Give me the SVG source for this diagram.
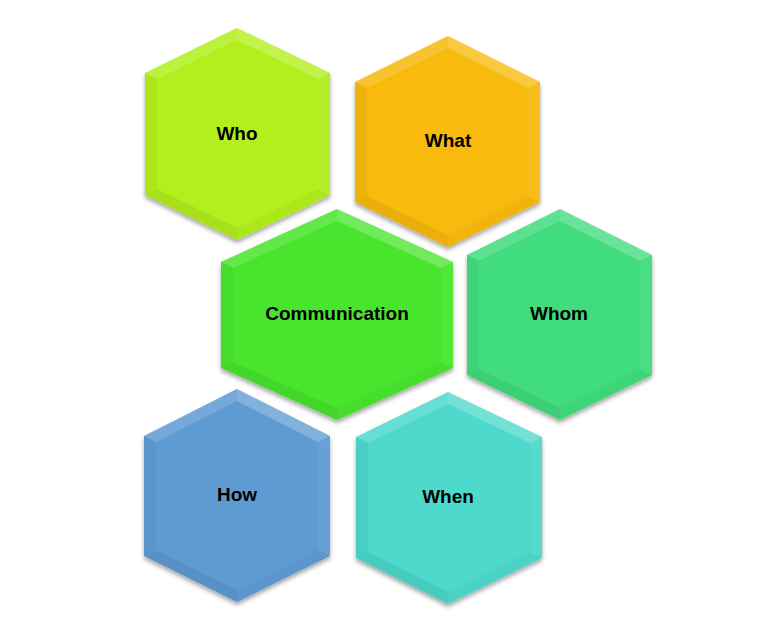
<svg xmlns="http://www.w3.org/2000/svg" width="780" height="630" viewBox="0 0 780 630">
<defs>
<filter id="sh" x="-10%" y="-10%" width="120%" height="125%">
<feDropShadow dx="0" dy="3" stdDeviation="2" flood-color="#000" flood-opacity="0.35"/>
</filter>
</defs>
<style>
.hex{filter:url(#sh)}
.tl{fill:#fff;opacity:.14}
.tr{fill:#fff;opacity:.22}
.lf{fill:#000;opacity:.04}
.rt{fill:#fff;opacity:.05}
.bl{fill:#000;opacity:.06}
.br{fill:#000;opacity:.03}
.lbl{font-family:"Liberation Sans",Arial,sans-serif;font-weight:bold;font-size:19px;fill:#000;text-anchor:middle}
</style>
<rect width="780" height="630" fill="#fff"/>
<g id="connectors"></g>
<g id="who">
<polygon class="hex" fill="#B2EF1E" points="237,28 330,73 330,195 237,240 145,195 145,73"/>
<polygon class="tl" points="237,28 145,73 157,79 237,40"/>
<polygon class="tr" points="237,28 330,73 318,79 237,40"/>
<polygon class="lf" points="145,73 145,195 157,189 157,79"/>
<polygon class="rt" points="330,73 330,195 318,189 318,79"/>
<polygon class="bl" points="145,195 237,240 237,228 157,189"/>
<polygon class="br" points="237,240 330,195 318,189 237,228"/>
<text class="lbl" x="237" y="140">Who</text>
</g>
<g id="what">
<polygon class="hex" fill="#F8BA0B" points="448,36 540,82 540,202 448,247 355,202 355,82"/>
<polygon class="tl" points="448,36 355,82 367,88 448,48"/>
<polygon class="tr" points="448,36 540,82 528,88 448,48"/>
<polygon class="lf" points="355,82 355,202 367,196 367,88"/>
<polygon class="rt" points="540,82 540,202 528,196 528,88"/>
<polygon class="bl" points="355,202 448,247 448,235 367,196"/>
<polygon class="br" points="448,247 540,202 528,196 448,235"/>
<text class="lbl" x="448" y="147">What</text>
</g>
<g id="communication">
<polygon class="hex" fill="#48E52E" points="337,209 453,262 453,368 337,420 221,368 221,262"/>
<polygon class="tl" points="337,209 221,262 233,268 337,221"/>
<polygon class="tr" points="337,209 453,262 441,268 337,221"/>
<polygon class="lf" points="221,262 221,368 233,362 233,268"/>
<polygon class="rt" points="453,262 453,368 441,362 441,268"/>
<polygon class="bl" points="221,368 337,420 337,408 233,362"/>
<polygon class="br" points="337,420 453,368 441,362 337,408"/>
<text class="lbl" x="337" y="320">Communication</text>
</g>
<g id="whom">
<polygon class="hex" fill="#40DC7E" points="560,209 652,255 652,375 560,420 467,375 467,255"/>
<polygon class="tl" points="560,209 467,255 479,261 560,221"/>
<polygon class="tr" points="560,209 652,255 640,261 560,221"/>
<polygon class="lf" points="467,255 467,375 479,369 479,261"/>
<polygon class="rt" points="652,255 652,375 640,369 640,261"/>
<polygon class="bl" points="467,375 560,420 560,408 479,369"/>
<polygon class="br" points="560,420 652,375 640,369 560,408"/>
<text class="lbl" x="559" y="320">Whom</text>
</g>
<g id="how">
<polygon class="hex" fill="#5E9BD3" points="237,389 330,436 330,556 237,602 144,556 144,436"/>
<polygon class="tl" points="237,389 144,436 156,442 237,401"/>
<polygon class="tr" points="237,389 330,436 318,442 237,401"/>
<polygon class="lf" points="144,436 144,556 156,550 156,442"/>
<polygon class="rt" points="330,436 330,556 318,550 318,442"/>
<polygon class="bl" points="144,556 237,602 237,590 156,550"/>
<polygon class="br" points="237,602 330,556 318,550 237,590"/>
<text class="lbl" x="237" y="501">How</text>
</g>
<g id="when">
<polygon class="hex" fill="#4ED9CC" points="448,392 542,437 542,558 448,604 356,558 356,437"/>
<polygon class="tl" points="448,392 356,437 368,443 448,404"/>
<polygon class="tr" points="448,392 542,437 530,443 448,404"/>
<polygon class="lf" points="356,437 356,558 368,552 368,443"/>
<polygon class="rt" points="542,437 542,558 530,552 530,443"/>
<polygon class="bl" points="356,558 448,604 448,592 368,552"/>
<polygon class="br" points="448,604 542,558 530,552 448,592"/>
<text class="lbl" x="448" y="503">When</text>
</g>
</svg>
